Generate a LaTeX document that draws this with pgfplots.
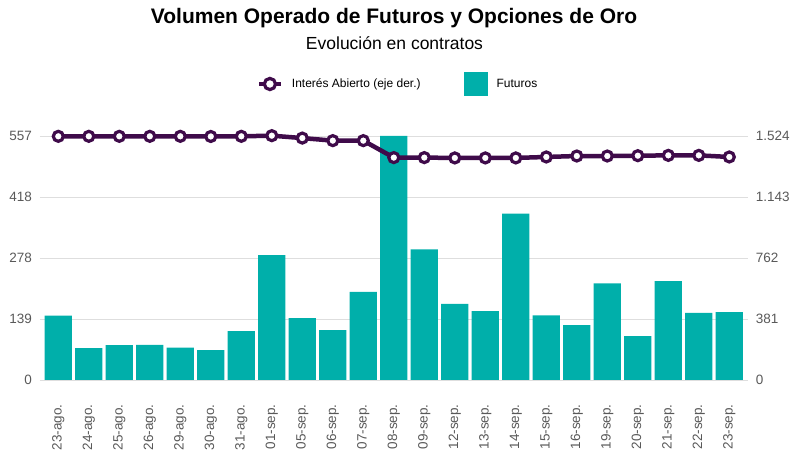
\documentclass[border=0pt]{standalone}
\usepackage{fontspec}
\setmainfont{Liberation Sans}
\usepackage{pgfplots}
\pgfplotsset{compat=1.18}
\definecolor{tealc}{HTML}{00AFAA}
\definecolor{purp}{HTML}{3F0B4A}
\definecolor{tickgray}{HTML}{595959}
\definecolor{gridgray}{HTML}{DEDEDE}
\begin{document}
\begin{tikzpicture}[x=1pt,y=1pt]
\path[use as bounding box] (0,0) rectangle (800,457);
\node[font=\bfseries\fontsize{21}{25}\selectfont, anchor=base, inner sep=0pt] at (394,433.7) {Volumen Operado de Futuros y Opciones de Oro};
\node[font=\fontsize{17.5}{21}\selectfont, anchor=base, inner sep=0pt] at (394.5,407) {Evolución en contratos};
\begin{axis}[
  at={(40pt,77pt)}, anchor=south west, scale only axis,
  width=707.6pt, height=244pt,
  xmin=-0.6, xmax=22.6, ymin=0, ymax=557,
  axis line style={draw=none}, tick style={draw=none},
  ytick={0,139.25,278.5,417.75,557}, yticklabels={0,139,278,418,557},
  ymajorgrids, grid style={gridgray, line width=0.9pt},
  xtick={0,...,22},
  xticklabels={23-ago.,24-ago.,25-ago.,26-ago.,29-ago.,30-ago.,31-ago.,01-sep.,05-sep.,06-sep.,07-sep.,08-sep.,09-sep.,12-sep.,13-sep.,14-sep.,15-sep.,16-sep.,19-sep.,20-sep.,21-sep.,22-sep.,23-sep.},
  tick label style={font=\fontsize{13.5}{16}\selectfont, text=tickgray},
  xticklabel style={rotate=90, anchor=east, inner sep=0pt},
  xticklabel shift=20pt,
  yticklabel style={anchor=east, inner sep=0pt},
  yticklabel shift=8pt,
  /pgf/number format/assume math mode=true,
  ybar, bar width=27.3pt,
  legend columns=2,
  legend style={at={(0.3062,1.2131)}, anchor=west, draw=none, fill=none, inner sep=0pt,
    font=\fontsize{12}{14}\selectfont, cells={anchor=west},
    /tikz/every even column/.style={column sep=0pt}},
]
\addlegendimage{legend image code/.code={
  \draw[purp, line width=4.5pt] (0pt,0pt) -- (21.6pt,0pt);
  \draw[purp, line width=3.2pt, fill=white] (10.8pt,0pt) circle (5.6pt);
  \path (0pt,0pt) (30.6pt,0pt);}}
\addlegendentry{Interés Abierto (eje der.)}
\addplot[fill=tealc, draw=none,
  legend image code/.code={
  \fill[tealc] (0pt,-12pt) rectangle (24pt,12pt);
  \path (-41pt,0pt) (31pt,0pt);}]
 coordinates {(0,146.7) (1,73) (2,79.8) (3,80) (4,73.7) (5,68.4) (6,111.7) (7,285) (8,141.3) (9,114) (10,201.4) (11,557) (12,297.9) (13,174) (14,157.3) (15,380) (16,147.4) (17,125.4) (18,220.4) (19,100.3) (20,225.7) (21,153.5) (22,155)};
\addlegendentry{Futuros}
\end{axis}
\begin{axis}[
  at={(40pt,77pt)}, anchor=south west, scale only axis,
  width=707.6pt, height=244pt,
  xmin=-0.6, xmax=22.6, ymin=0, ymax=1524,
  axis line style={draw=none}, tick style={draw=none},
  xtick=\empty,
  ytick={0,381,762,1143,1524}, yticklabels={0,381,762,1.143,1.524},
  yticklabel pos=right,
  tick label style={font=\fontsize{13.5}{16}\selectfont, text=tickgray},
  yticklabel style={anchor=west, inner sep=0pt},
  yticklabel shift=8pt,
  clip=false,
]
\addplot[purp, line width=4.5pt, mark=*, mark size=5pt,
  mark options={fill=white, draw=purp, line width=3.2pt}]
 coordinates {(0,1522) (1,1522) (2,1522) (3,1522) (4,1522) (5,1521) (6,1522) (7,1526) (8,1511) (9,1495) (10,1495) (11,1389) (12,1389) (13,1387) (14,1387) (15,1387) (16,1393) (17,1399) (18,1399) (19,1401) (20,1403) (21,1403) (22,1393)};
\end{axis}
\end{tikzpicture}
\end{document}
